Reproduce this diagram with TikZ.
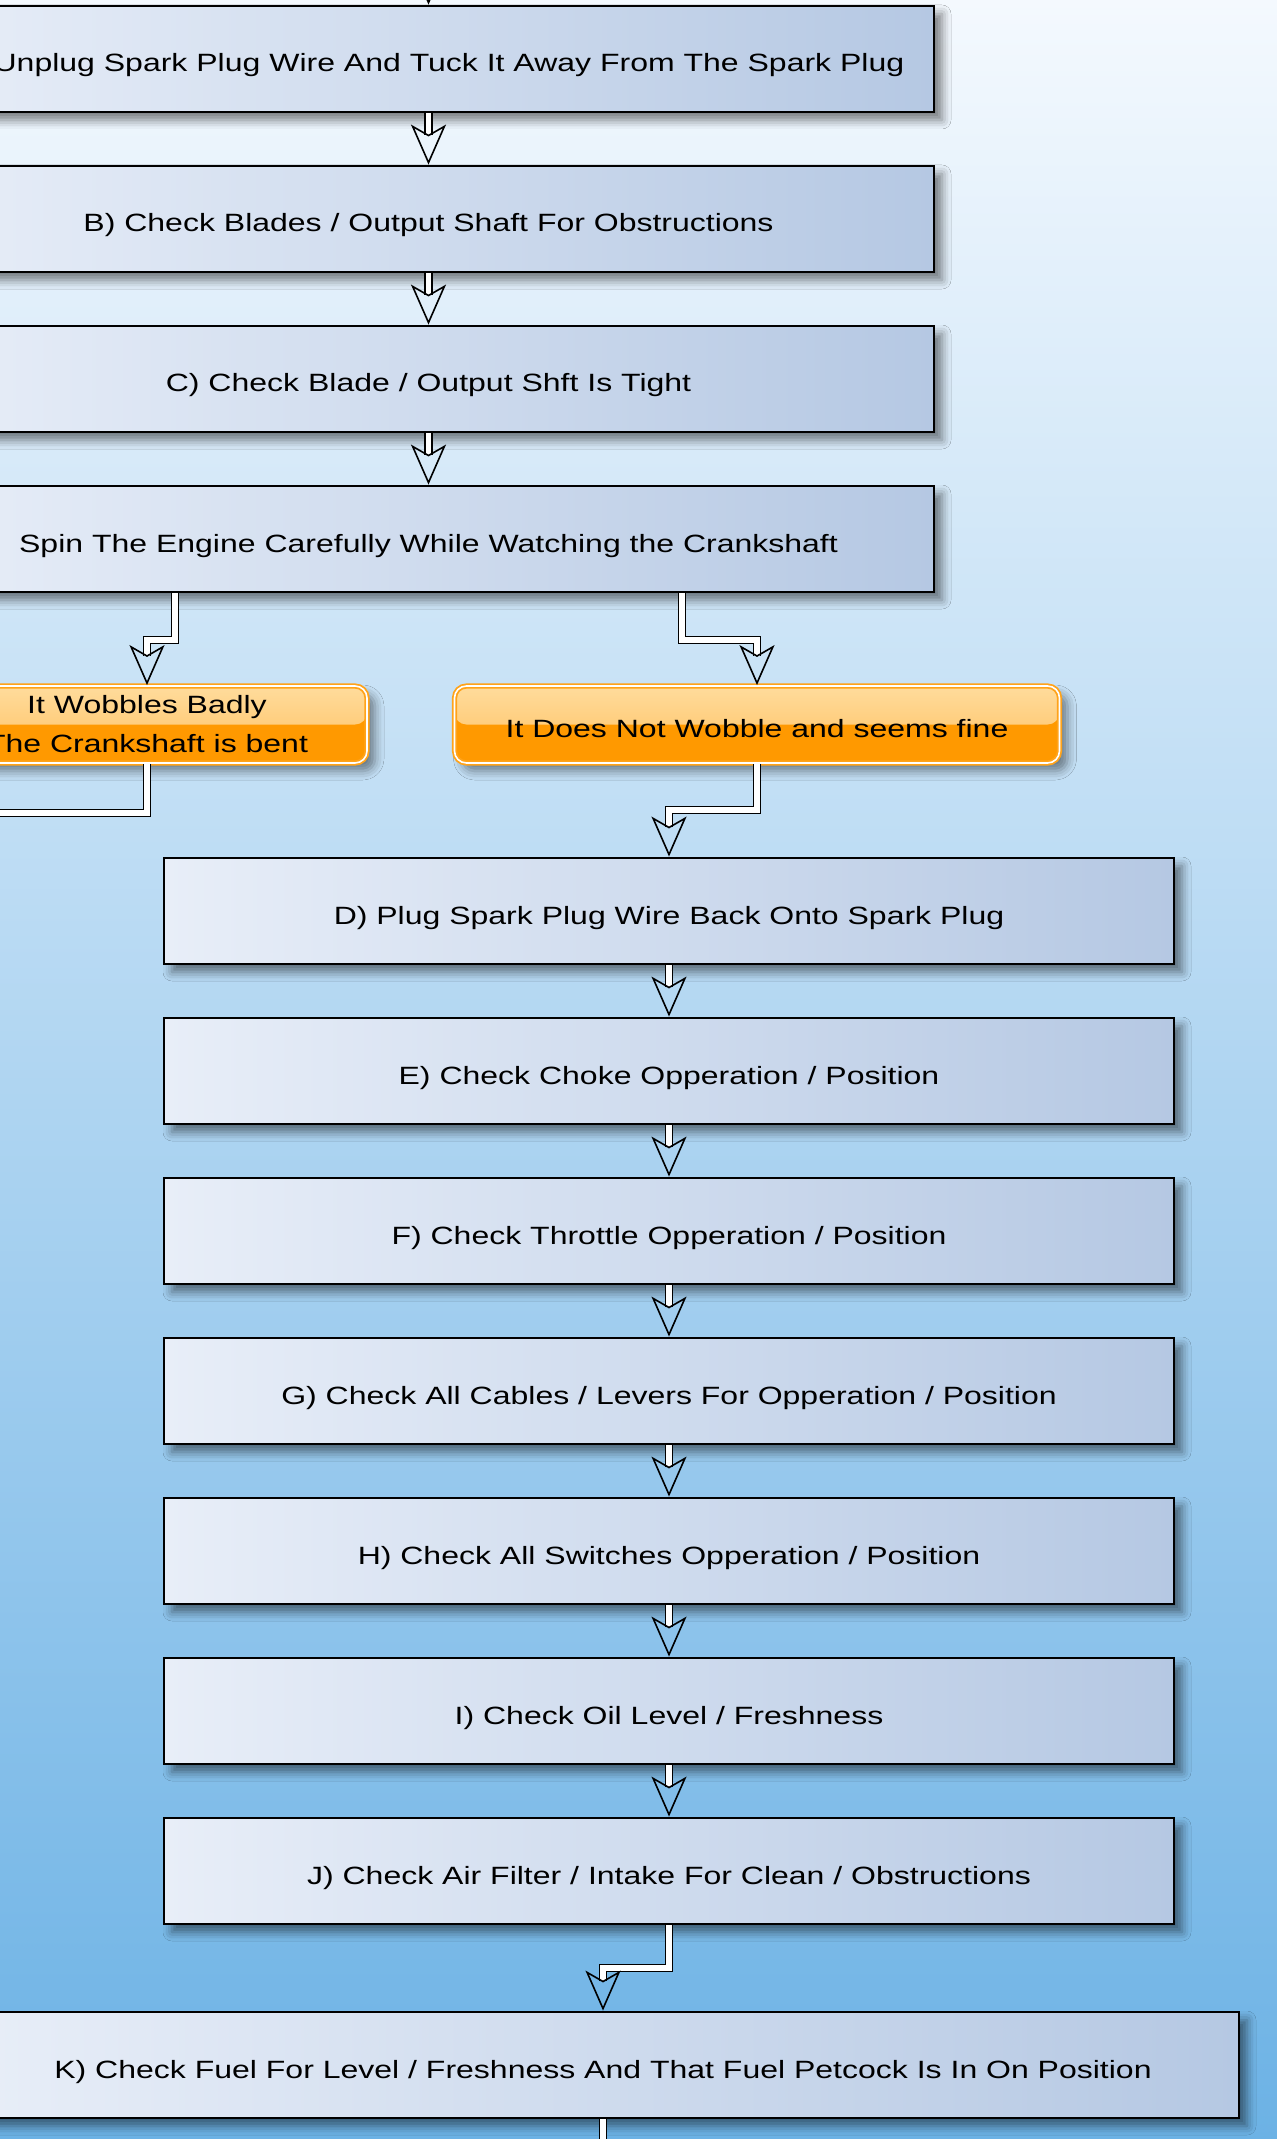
\documentclass[tikz,border=0pt]{standalone}
\usepackage{fontspec}
\setmainfont{Liberation Sans}[FakeStretch=1.28]
\usetikzlibrary{calc,arrows.meta,shadows.blur}

\definecolor{bgtop}{HTML}{F4F9FE}
\definecolor{bgbot}{HTML}{6CB2E5}
\definecolor{boxl}{HTML}{E8EEF8}
\definecolor{boxr}{HTML}{B5C8E3}
\definecolor{ansrim}{HTML}{FFA31A}
\definecolor{anstop}{HTML}{FFDC9C}
\definecolor{ansmid}{HTML}{FFBF5E}
\definecolor{ansbot}{HTML}{FF9900}

\tikzset{
  stepbox/.style={draw=black, line width=1.4pt, left color=boxl, right color=boxr,
    minimum width=505pt, minimum height=53pt, inner sep=0pt,
    text height=13pt, text depth=0pt,
    font=\fontsize{12.5}{19.5}\selectfont,
    blur shadow={shadow xshift=4pt, shadow yshift=-4pt, shadow blur radius=4.5pt, shadow opacity=50}},
  answer/.style={rounded corners=6pt, draw=ansrim, line width=0.9pt, double=white, double distance=0.8pt,
    fill=ansbot, minimum height=38.5pt, inner sep=0pt, align=center,
    font=\fontsize{12.5}{19.5}\selectfont,
    path picture={\fill[top color=anstop, bottom color=ansmid]
      (path picture bounding box.north west) rectangle (path picture bounding box.east);},
    blur shadow={shadow xshift=4pt, shadow yshift=-4pt, shadow blur radius=4.5pt, shadow opacity=45}},
  flow/.style={draw=black, line width=0.8pt, double=white, double distance=2.6pt,
    -{Stealth[open, length=20pt, width=17.5pt, inset=5pt, line width=0.8pt]}},
}

\begin{document}
\begin{tikzpicture}[x=0.5pt, y=-0.5pt]
  \useasboundingbox (0,0) rectangle (1277,2139);
  \clip (0,0) rectangle (1277,2139);
  \shade[top color=bgtop, bottom color=bgbot] (0,0) rectangle (1277,2139);

  % bends and loose ends
  \coordinate (top) at (428.5,-60);
  \coordinate (lbend) at (147,640);
  \coordinate (rbend) at (757,640);
  \coordinate (lout) at (-100,813);
  \coordinate (dbend) at (669,810);
  \coordinate (kbend) at (603,1968);
  \coordinate (kout) at (603,2260);

  % first column
  \node [stepbox, minimum width=505.5pt] (unplug) at (428.5,59) {A) Unplug Spark Plug Wire And Tuck It Away From The Spark Plug};
  \node [stepbox, minimum width=505.5pt] (blades) at (428.5,219) {B) Check Blades / Output Shaft For Obstructions};
  \node [stepbox, minimum width=505.5pt] (tight) at (428.5,379) {C) Check Blade / Output Shft Is Tight};
  \node [stepbox, minimum width=505.5pt] (spin) at (428.5,539) {Spin The Engine Carefully While Watching the Crankshaft};

  % answers
  \node [answer, minimum width=220pt] (bad) at (147,724.5) {It Wobbles Badly\\The Crankshaft is bent};
  \node [answer, minimum width=302.5pt, text height=13pt, text depth=0pt] (fine) at (757,724.5) {It Does Not Wobble and seems fine};

  % second column
  \node [stepbox] (plug) at (669,911) {D) Plug Spark Plug Wire Back Onto Spark Plug};
  \node [stepbox] (choke) at (669,1071) {E) Check Choke Opperation / Position};
  \node [stepbox] (throttle) at (669,1231) {F) Check Throttle Opperation / Position};
  \node [stepbox] (cables) at (669,1391) {G) Check All Cables / Levers For Opperation / Position};
  \node [stepbox] (switches) at (669,1551) {H) Check All Switches Opperation / Position};
  \node [stepbox] (oil) at (669,1711) {I) Check Oil Level / Freshness};
  \node [stepbox] (air) at (669,1871) {J) Check Air Filter / Intake For Clean / Obstructions};
  \node [stepbox, minimum width=636pt] (fuel) at (603,2065) {K) Check Fuel For Level / Freshness And That Fuel Petcock Is In On Position};

  % connectors
  \draw [flow] (top) -- (unplug);
  \draw [flow] (unplug) -- (blades);
  \draw [flow] (blades) -- (tight);
  \draw [flow] (tight) -- (spin);
  \draw [flow] ($(spin.south west)!0.25!(spin.south east)$) |- (lbend) -- (bad);
  \draw [flow] ($(spin.south west)!0.75!(spin.south east)$) |- (rbend) -- (fine);
  \draw [flow] (bad) |- (lout);
  \draw [flow] (fine) |- (dbend) -- (plug);
  \draw [flow] (plug) -- (choke);
  \draw [flow] (choke) -- (throttle);
  \draw [flow] (throttle) -- (cables);
  \draw [flow] (cables) -- (switches);
  \draw [flow] (switches) -- (oil);
  \draw [flow] (oil) -- (air);
  \draw [flow] (air) |- (kbend) -- (fuel);
  \draw [flow] (fuel) -- (kout);
\end{tikzpicture}
\end{document}
